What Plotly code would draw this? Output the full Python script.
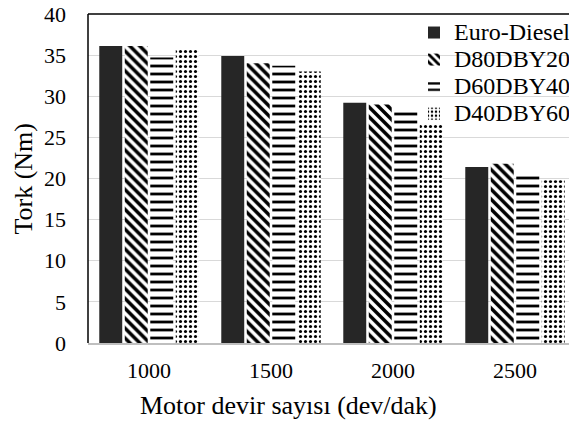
import plotly.graph_objects as go

categories = ["1000", "1500", "2000", "2500"]
series_names = ["Euro-Diesel", "D80DBY20", "D60DBY40", "D40DBY60"]
euro_diesel = [36.1, 34.9, 29.2, 21.4]
d80dby20 = [36.1, 34.0, 29.0, 21.8]
d60dby40 = [34.7, 33.7, 28.5, 20.3]
d40dby60 = [35.8, 33.0, 26.7, 19.8]
y_ticks = [0, 5, 10, 15, 20, 25, 30, 35, 40]

FONT = "Liberation Serif"

series_values = [euro_diesel, d80dby20, d60dby40, d40dby60]
patterns = [
    None,
    dict(shape="\\", fgcolor="black", bgcolor="white", size=7, solidity=0.5, fillmode="replace"),
    dict(shape="-", fgcolor="black", bgcolor="white", size=8, solidity=0.35, fillmode="replace"),
    dict(shape=".", fgcolor="black", bgcolor="white", size=5, solidity=0.3, fillmode="replace"),
]

fig = go.Figure()
for name, vals, pat in zip(series_names, series_values, patterns):
    marker = dict(color="#262626", line=dict(width=0))
    if pat is not None:
        marker = dict(color="white", pattern=pat, line=dict(width=0))
    fig.add_trace(go.Bar(x=categories, y=vals,
                         name=f'<span style="font-size:24px">{name}</span>',
                         marker=marker))

# The page body has an 8px margin, so the figure is 8px smaller and margins shifted
fig.update_layout(
    width=569, height=413,
    margin=dict(l=80, r=1, t=6, b=78, autoexpand=False),
    paper_bgcolor="white", plot_bgcolor="white",
    barmode="group", bargap=0.164, bargroupgap=0.1,
    font=dict(family=FONT, color="black", size=22),
    showlegend=True,
    legend=dict(x=1.0, xanchor="right", y=1.0, yanchor="top",
                bgcolor="rgba(0,0,0,0)", font=dict(size=18.5, family=FONT, color="black"),
                itemwidth=30, tracegroupgap=0),
    xaxis=dict(type="category", showgrid=False, showline=True, linecolor="#bfbfbf", linewidth=1.5,
               ticks="", tickfont=dict(size=22, family=FONT, color="black"), ticklabelstandoff=7),
    yaxis=dict(range=[0, 40], tickvals=y_ticks, showgrid=True, gridcolor="#d9d9d9", gridwidth=1.3,
               zeroline=False, showline=False, ticks="", ticklabeloverflow="allow",
               tickfont=dict(size=22, family=FONT, color="black"), ticklabelstandoff=21),
    annotations=[
        dict(text="Tork (Nm)", xref="paper", yref="paper", x=-0.133, y=0.5, textangle=-90,
             showarrow=False, font=dict(size=26, family=FONT, color="black"),
             xanchor="center", yanchor="middle"),
        dict(text="Motor devir sayısı (dev/dak)", xref="paper", yref="paper", x=0.41, y=0,
             yshift=-62, showarrow=False, font=dict(size=26, family=FONT, color="black"),
             xanchor="center", yanchor="middle"),
    ],
    shapes=[
        dict(type="line", xref="paper", yref="paper", x0=0, x1=1, y0=1, y1=1, line=dict(color="black", width=1.5)),
        dict(type="line", xref="paper", yref="paper", x0=0, x1=0, y0=0, y1=1, line=dict(color="black", width=1.5)),
        dict(type="line", xref="paper", yref="paper", x0=1, x1=1, y0=0, y1=1, line=dict(color="black", width=1.5)),
    ],
)

fig.write_html("out.html")
